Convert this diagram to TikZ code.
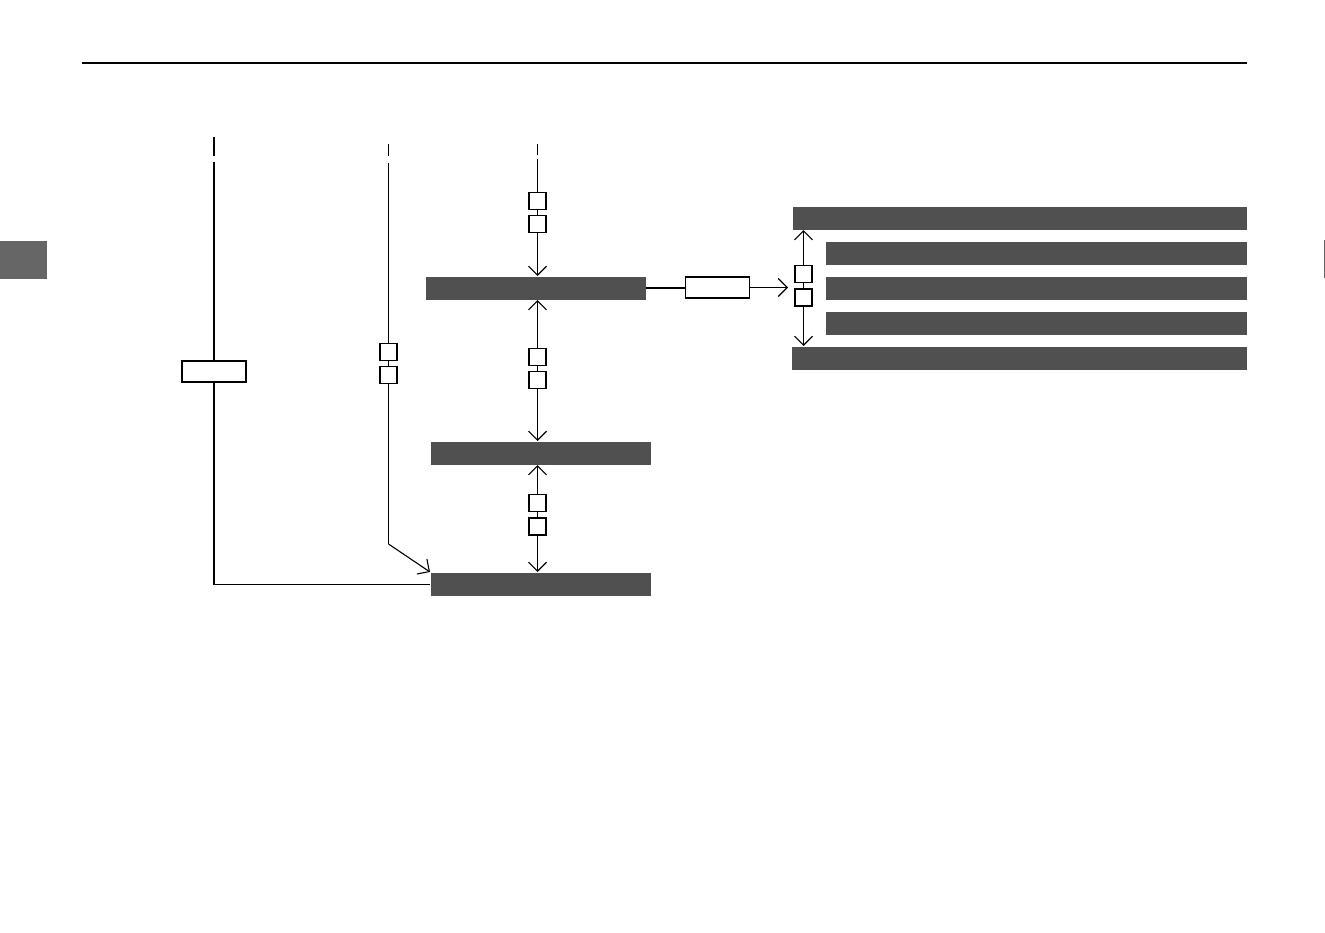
\documentclass[tikz,border=0pt]{standalone}
\usetikzlibrary{arrows.meta}
\definecolor{barc}{HTML}{505050}
\definecolor{tabc}{HTML}{666666}
\begin{document}
\begin{tikzpicture}[x=1pt,y=-1pt,line width=1.1pt,
  bar/.style={fill=barc,draw=none,inner sep=0pt,minimum height=23pt,anchor=north west},
  sq/.style={draw=black,fill=white,inner sep=0pt,minimum width=17pt,minimum height=17pt},
  wbox/.style={draw=black,fill=white,inner sep=0pt,minimum width=64pt,minimum height=21pt},
  tip/.style={-{Straight Barb[length=9pt,width=18pt]}},
  tipb/.style={{Straight Barb[length=9pt,width=18pt]}-}]
\useasboundingbox (0,0) rectangle (1325,933);
% page furniture
\draw[line width=1.3pt] (82,63) -- (1247,63);
\fill[tabc] (0,241) rectangle (47,279);
\draw[tabc,line width=1pt] (1324,240) -- (1324,278);
% bars
\node[bar,minimum width=220pt] (A) at (425,276) {};
\node[bar,minimum width=220pt] (B) at (430,441) {};
\node[bar,minimum width=220pt] (C) at (430,572) {};
\node[bar,minimum width=454pt] (R1) at (792,206) {};
\node[bar,minimum width=421pt] (R2) at (825,241) {};
\node[bar,minimum width=421pt] (R3) at (825,276) {};
\node[bar,minimum width=421pt] (R4) at (825,311) {};
\node[bar,minimum width=455pt] (R5) at (791,346) {};
% boxes
\node[wbox] (L1) at (214,371.5) {};
\node[sq] (M1) at (388.5,352) {};
\node[sq] (M2) at (388.5,375) {};
\node[sq] (T1) at (537.5,201) {};
\node[sq] (T2) at (537.5,224) {};
\node[sq] (U1) at (537.5,357) {};
\node[sq] (U2) at (537.5,380) {};
\node[sq] (V1) at (537.5,503) {};
\node[sq] (V2) at (537.5,526.5) {};
\node[wbox] (H) at (717.5,287.5) {};
\node[sq] (W1) at (803.5,274) {};
\node[sq] (W2) at (803.5,297.5) {};
% free ends
\coordinate (d1a) at (214,137); \coordinate (d1b) at (214,156);
\coordinate (l1a) at (214,162);
\coordinate (d2a) at (388.5,144); \coordinate (d2b) at (388.5,156);
\coordinate (l2a) at (388.5,163); \coordinate (l2b) at (388.5,544);
\coordinate (d3a) at (537.5,144); \coordinate (d3b) at (537.5,155);
\coordinate (l3a) at (537.5,159);
\coordinate (hend) at (788,287.5);
% line 1
\draw (d1a) -- (d1b);
\draw (l1a) -- (L1.north);
\draw (L1.south) |- (C.west);
% line 2
\draw (d2a) -- (d2b);
\draw (l2a) -- (M1.north);
\draw (M1.south) -- (M2.north);
\draw (M2.south) -- (l2b);
\draw[tip] (l2b) -- (C.north west);
% line 3
\draw (d3a) -- (d3b);
\draw (l3a) -- (T1.north);
\draw (T1.south) -- (T2.north);
\draw[tip] (T2.south) -- (A.north -| T2.south);
% A to B
\draw[tipb] (A.south -| U1.north) -- (U1.north);
\draw (U1.south) -- (U2.north);
\draw[tip] (U2.south) -- (B.north -| U2.south);
% B to C
\draw[tipb] (B.south -| V1.north) -- (V1.north);
\draw (V1.south) -- (V2.north);
\draw[tip] (V2.south) -- (C.north -| V2.south);
% A to right group
\draw (A.east) -- (A.east -| H.west);
\draw[tip] (H.east) -- (hend);
\draw[tipb] (R1.south -| W1.north) -- (W1.north);
\draw (W1.south) -- (W2.north);
\draw[tip] (W2.south) -- (R5.north -| W2.south);
\end{tikzpicture}
\end{document}
